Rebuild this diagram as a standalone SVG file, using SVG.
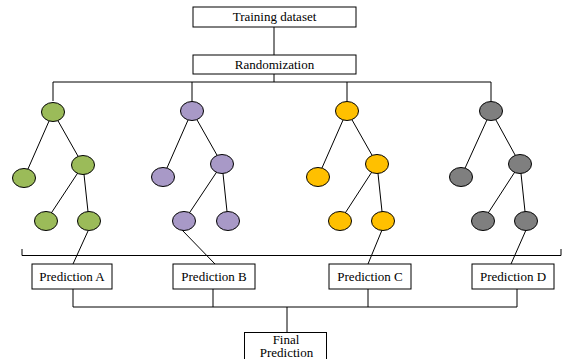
<svg xmlns="http://www.w3.org/2000/svg" width="566" height="359" viewBox="0 0 566 359">
<style>
.box{fill:#fff;stroke:#000;stroke-width:1}
.t{font-family:"Liberation Serif","Times New Roman",serif;font-size:13px;fill:#000;text-anchor:middle}
.ln{stroke:#000;stroke-width:1;fill:none}
.nd{stroke:#000;stroke-width:1}
.g{fill:#9BBB59}.p{fill:#A899C7}.o{fill:#FFC000}.k{fill:#7F7F7F}
</style>
<g id="connectors">
<line class="ln" x1="274" y1="27" x2="274" y2="55"/>
<line class="ln" x1="274" y1="74" x2="274" y2="82"/>
<polyline class="ln" points="53,101 53,82 491,82 491,101"/>
<line class="ln" x1="192" y1="82" x2="192" y2="101"/>
<line class="ln" x1="347" y1="82" x2="347" y2="101"/>
<!-- tree 1 -->
<line class="ln" x1="53" y1="112" x2="24" y2="178"/>
<line class="ln" x1="53" y1="112" x2="83" y2="165"/>
<line class="ln" x1="83" y1="165" x2="46" y2="221"/>
<line class="ln" x1="83" y1="165" x2="89" y2="221"/>
<line class="ln" x1="88" y1="231" x2="73" y2="264"/>
<!-- tree 2 -->
<line class="ln" x1="192" y1="111" x2="163" y2="177"/>
<line class="ln" x1="192" y1="111" x2="222" y2="164"/>
<line class="ln" x1="222" y1="164" x2="184" y2="221"/>
<line class="ln" x1="222" y1="164" x2="228" y2="221"/>
<line class="ln" x1="182" y1="230" x2="215" y2="264"/>
<!-- tree 3 -->
<line class="ln" x1="347" y1="111" x2="318" y2="177"/>
<line class="ln" x1="347" y1="111" x2="377" y2="164"/>
<line class="ln" x1="377" y1="164" x2="340" y2="221"/>
<line class="ln" x1="377" y1="164" x2="383" y2="221"/>
<line class="ln" x1="382" y1="230" x2="368" y2="264"/>
<!-- tree 4 -->
<line class="ln" x1="491" y1="111" x2="461" y2="177"/>
<line class="ln" x1="491" y1="111" x2="520" y2="164"/>
<line class="ln" x1="520" y1="164" x2="483" y2="221"/>
<line class="ln" x1="520" y1="164" x2="526" y2="221"/>
<line class="ln" x1="526" y1="230" x2="511" y2="264"/>
<!-- bracket -->
<polyline class="ln" points="22,249 22,255.5 561,255.5 561,249"/>
<!-- bottom -->
<polyline class="ln" points="73,289 73,307 517,307 517,289"/>
<line class="ln" x1="213" y1="289" x2="213" y2="307"/>
<line class="ln" x1="368" y1="289" x2="368" y2="307"/>
<line class="ln" x1="287" y1="307" x2="287" y2="332"/>
</g>
<g id="training"><rect class="box" x="193" y="7" width="163" height="20"/><text class="t" x="274.5" y="21">Training dataset</text></g>
<g id="randomization"><rect class="box" x="193" y="55" width="163" height="19"/><text class="t" x="274.5" y="68.5">Randomization</text></g>
<g id="tree1">
<ellipse class="nd g" cx="53" cy="112" rx="11.5" ry="9.5"/>
<ellipse class="nd g" cx="24" cy="178" rx="11.5" ry="9.5"/>
<ellipse class="nd g" cx="83" cy="165" rx="11.5" ry="9.5"/>
<ellipse class="nd g" cx="46" cy="221" rx="11.5" ry="9.5"/>
<ellipse class="nd g" cx="89" cy="221" rx="11.5" ry="9.5"/>
</g>
<g id="tree2">
<ellipse class="nd p" cx="192" cy="111" rx="11.5" ry="9.5"/>
<ellipse class="nd p" cx="163" cy="177" rx="11.5" ry="9.5"/>
<ellipse class="nd p" cx="222" cy="164" rx="11.5" ry="9.5"/>
<ellipse class="nd p" cx="184" cy="221" rx="11.5" ry="9.5"/>
<ellipse class="nd p" cx="228" cy="221" rx="11.5" ry="9.5"/>
</g>
<g id="tree3">
<ellipse class="nd o" cx="347" cy="111" rx="11.5" ry="9.5"/>
<ellipse class="nd o" cx="318" cy="177" rx="11.5" ry="9.5"/>
<ellipse class="nd o" cx="377" cy="164" rx="11.5" ry="9.5"/>
<ellipse class="nd o" cx="340" cy="221" rx="11.5" ry="9.5"/>
<ellipse class="nd o" cx="383" cy="221" rx="11.5" ry="9.5"/>
</g>
<g id="tree4">
<ellipse class="nd k" cx="491" cy="111" rx="11.5" ry="9.5"/>
<ellipse class="nd k" cx="461" cy="177" rx="11.5" ry="9.5"/>
<ellipse class="nd k" cx="520" cy="164" rx="11.5" ry="9.5"/>
<ellipse class="nd k" cx="483" cy="221" rx="11.5" ry="9.5"/>
<ellipse class="nd k" cx="526" cy="221" rx="11.5" ry="9.5"/>
</g>
<g id="predA"><rect class="box" x="32" y="264" width="80" height="25"/><text class="t" x="72" y="281">Prediction A</text></g>
<g id="predB"><rect class="box" x="173" y="264" width="82" height="25"/><text class="t" x="214" y="281">Prediction B</text></g>
<g id="predC"><rect class="box" x="329" y="264" width="82" height="25"/><text class="t" x="370" y="281">Prediction C</text></g>
<g id="predD"><rect class="box" x="472" y="264" width="82" height="25"/><text class="t" x="513" y="281">Prediction D</text></g>
<g id="final"><rect class="box" x="244.5" y="332.5" width="82" height="30"/><text class="t" x="286" y="343.5">Final</text><text class="t" x="286.5" y="357">Prediction</text></g>
</svg>
